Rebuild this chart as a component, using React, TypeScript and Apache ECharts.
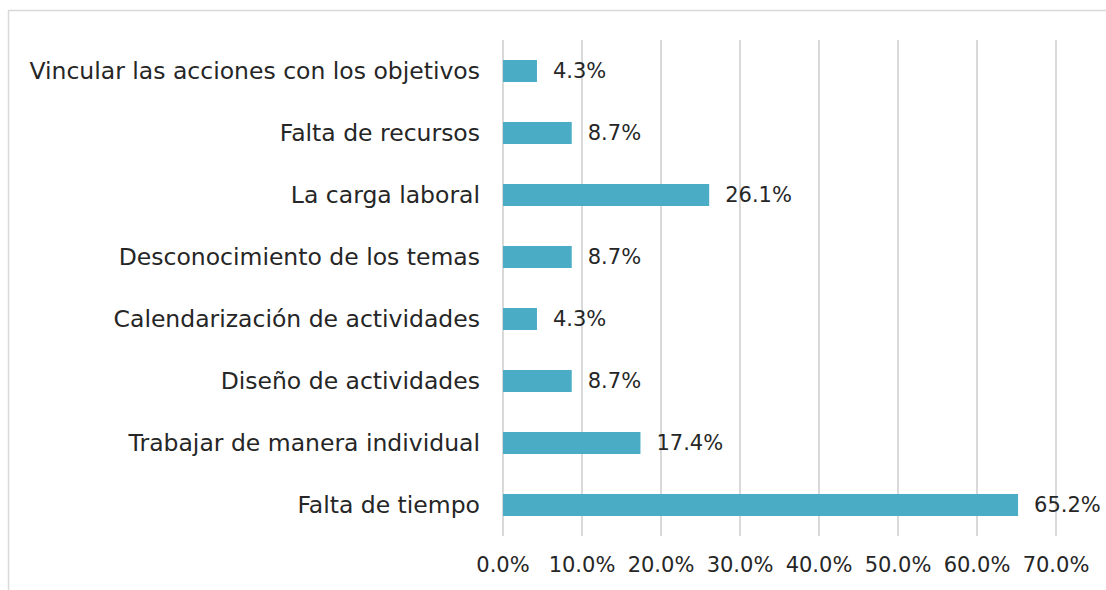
import React, { useEffect, useRef } from "react";
import * as echarts from "echarts";

const categories = [
  "Falta de tiempo",
  "Trabajar de manera individual",
  "Diseño de actividades",
  "Calendarización de actividades",
  "Desconocimiento de los temas",
  "La carga laboral",
  "Falta de recursos",
  "Vincular las acciones con los objetivos",
];
const values = [65.2, 17.4, 8.7, 4.3, 8.7, 26.1, 8.7, 4.3];
const axisMin = 0;
const axisMax = 70;
const axisStep = 10;

export default function App() {
  const ref = useRef<HTMLDivElement>(null);
  useEffect(() => {
    if (!ref.current) return;
    const chart = echarts.init(ref.current, null, { renderer: "svg" });
    const font = "'DejaVu Sans', sans-serif";
    chart.setOption({
      animation: false,
      textStyle: { fontFamily: font },
      graphic: [
        { type: "line", shape: { x1: 8, y1: 10.5, x2: 1106, y2: 10.5 }, style: { stroke: "#d9d9d9", lineWidth: 1.5 } },
        { type: "line", shape: { x1: 8.5, y1: 10, x2: 8.5, y2: 590 }, style: { stroke: "#d9d9d9", lineWidth: 1.5 } },
      ],
      grid: { left: 503, right: 50, top: 40, bottom: 54, containLabel: false },
      xAxis: {
        type: "value",
        min: axisMin,
        max: axisMax,
        interval: axisStep,
        axisLine: { show: false },
        axisTick: { show: false },
        splitLine: { show: true, lineStyle: { color: "#d9d9d9", width: 2 } },
        axisLabel: {
          formatter: (v: number) => v.toFixed(1) + "%",
          color: "#262626",
          fontSize: 21,
          fontFamily: font,
          margin: 18,
        },
      },
      yAxis: {
        type: "category",
        data: categories,
        axisLine: { show: false },
        axisTick: { show: false },
        splitLine: { show: false },
        axisLabel: { color: "#262626", fontSize: 23.5, fontFamily: font, margin: 23 },
      },
      series: [
        {
          type: "bar",
          data: values,
          barWidth: 22,
          itemStyle: { color: "#4BACC6" },
          label: {
            show: true,
            position: "right",
            distance: 16,
            formatter: (p: any) => p.value.toFixed(1) + "%",
            color: "#262626",
            fontSize: 21,
            fontFamily: font,
          },
        },
      ],
    });
    return () => chart.dispose();
  }, []);
  return <div ref={ref} style={{ width: 1106, height: 590, position: "absolute", left: 0, top: 0, background: "#fff" }} />;
}
